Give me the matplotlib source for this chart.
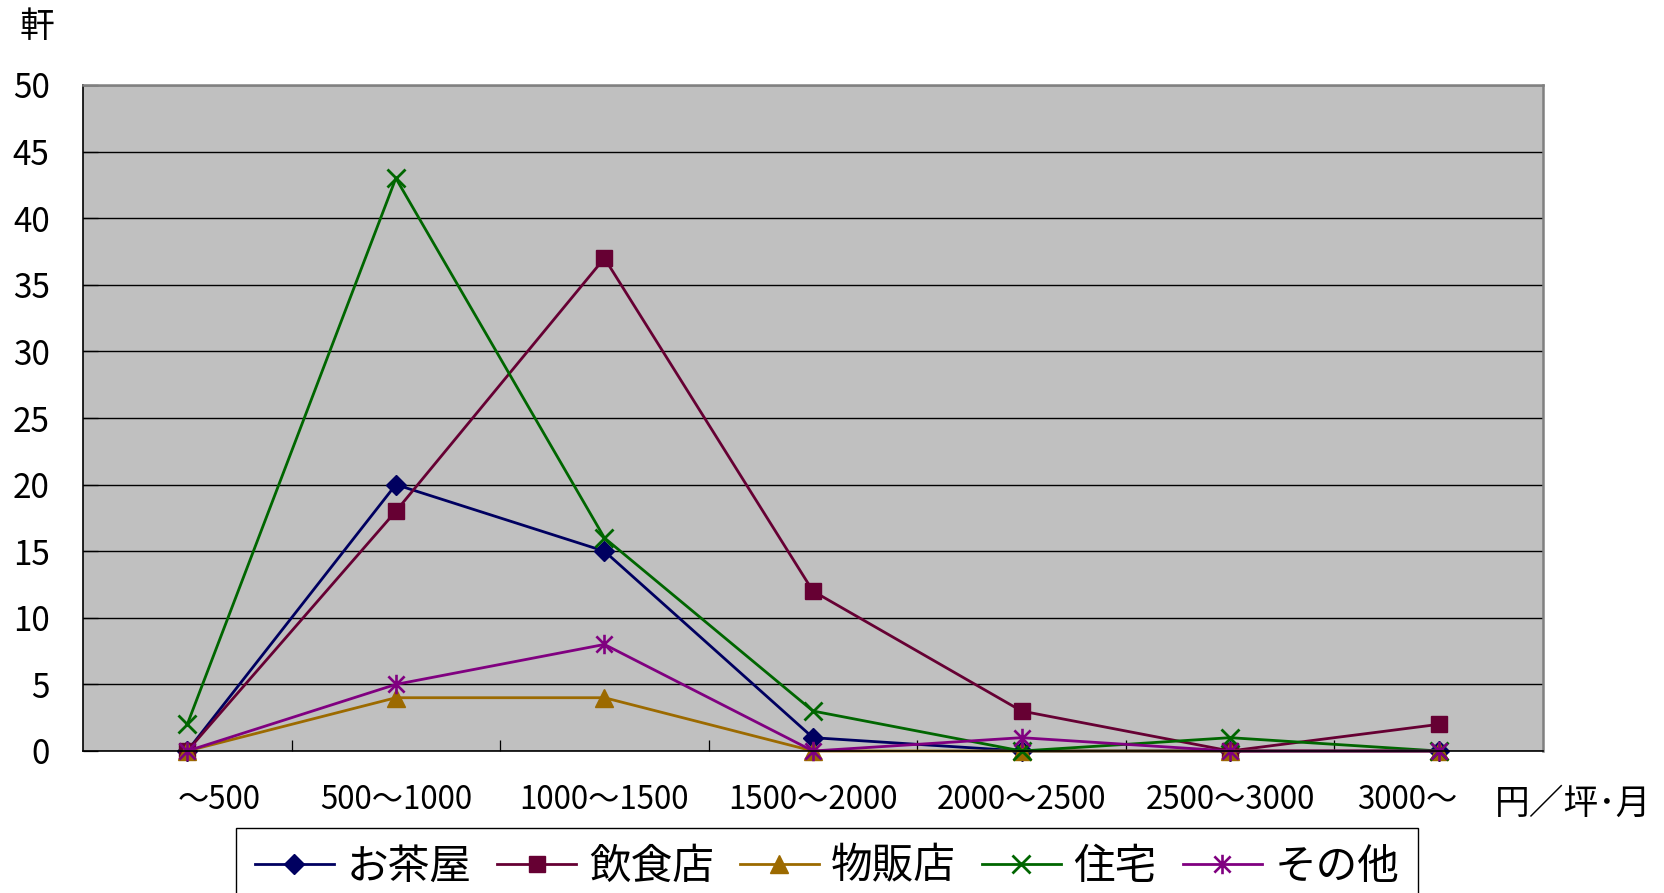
import matplotlib
matplotlib.use("Agg")
import matplotlib.pyplot as plt
import matplotlib.transforms as mtransforms
from matplotlib.path import Path

plt.rcParams['font.family'] = ['Noto Sans CJK JP', 'DejaVu Sans']

# rent bands (yen per tsubo per month)
categories = ['～500', '500～1000', '1000～1500', '1500～2000',
              '2000～2500', '2500～3000', '3000～']

# number of premises per use
series_names = ['お茶屋', '飲食店', '物販店', '住宅', 'その他']
ochaya = [0, 20, 15, 1, 0, 0, 0]
inshokuten = [0, 18, 37, 12, 3, 0, 2]
buppanten = [0, 4, 4, 0, 0, 0, 0]
jutaku = [2, 43, 16, 3, 0, 1, 0]
sonota = [0, 5, 8, 0, 1, 0, 0]

y_ticks = [0, 5, 10, 15, 20, 25, 30, 35, 40, 45, 50]

# asterisk marker: an x crossed by a vertical stroke
asterisk = Path([(-1, -1), (1, 1), (-1, 1), (1, -1), (0, -1.2), (0, 1.2)],
                [Path.MOVETO, Path.LINETO, Path.MOVETO, Path.LINETO,
                 Path.MOVETO, Path.LINETO])

styles = [
    dict(color='#000060', marker='D', markersize=10),
    dict(color='#660033', marker='s', markersize=11),
    dict(color='#9C6A00', marker='^', markersize=13),
    dict(color='#006600', marker='x', markersize=13.5, markeredgewidth=2.0),
    dict(color='#800080', marker=asterisk, markersize=14, markeredgewidth=1.9),
]

fig = plt.figure(figsize=(16.65, 8.93), dpi=100)
ax = fig.add_axes([83 / 1665, 1 - 751 / 893, (1543 - 83) / 1665, (751 - 85) / 893])
ax.set_facecolor('#C0C0C0')

x = list(range(len(categories)))
for name, values, st in zip(series_names,
                            [ochaya, inshokuten, buppanten, jutaku, sonota],
                            styles):
    ax.plot(x, values, label=name, linewidth=2.0, clip_on=False, **st)

ax.set_xlim(-0.5, len(categories) - 0.5)
ax.set_ylim(0, 50)
ax.set_yticks(y_ticks)
ax.set_yticklabels([str(v) for v in y_ticks])
ax.yaxis.grid(True, color='black', linewidth=1.0)
ax.set_axisbelow(True)

# category labels under the bands, ticks on the band boundaries
ax.set_xticks(x)
ax.set_xticklabels(categories)
ax.set_xticks([i + 0.5 for i in x[:-1]], minor=True)
ax.tick_params(axis='x', which='major', length=0, pad=24, labelsize=22.5)
ax.tick_params(axis='x', which='minor', direction='in', length=8,
               width=0.9, color='black')
ax.tick_params(axis='y', direction='in', length=11, width=0.9,
               pad=24, labelsize=24)

labels = ax.get_xticklabels()
labels[0].set_transform(labels[0].get_transform() +
                        mtransforms.ScaledTranslation(23 / 72, 0, fig.dpi_scale_trans))
labels[-1].set_transform(labels[-1].get_transform() +
                         mtransforms.ScaledTranslation(-23 / 72, 0, fig.dpi_scale_trans))

for side in ('left', 'bottom'):
    ax.spines[side].set_color('black')
    ax.spines[side].set_linewidth(1.2)
for side in ('top', 'right'):
    ax.spines[side].set_color('#808080')
    ax.spines[side].set_linewidth(1.8)

fig.text(37 / 1665, 1 - 27 / 893, '軒', fontsize=25, ha='center', va='center')
fig.text(1495 / 1665, 1 - 804 / 893, '円／坪･月', fontsize=25,
         ha='left', va='center')

leg = fig.legend(loc='upper left', bbox_to_anchor=(236 / 1665, 1 - 828 / 893),
                 ncol=5, fontsize=30, frameon=True, fancybox=False,
                 edgecolor='black', framealpha=1, handlelength=1.9,
                 handletextpad=0.3, columnspacing=0.62, borderpad=0.45,
                 numpoints=1, borderaxespad=0)
leg.get_frame().set_linewidth(1.0)

fig.savefig('out.png', dpi=100)
